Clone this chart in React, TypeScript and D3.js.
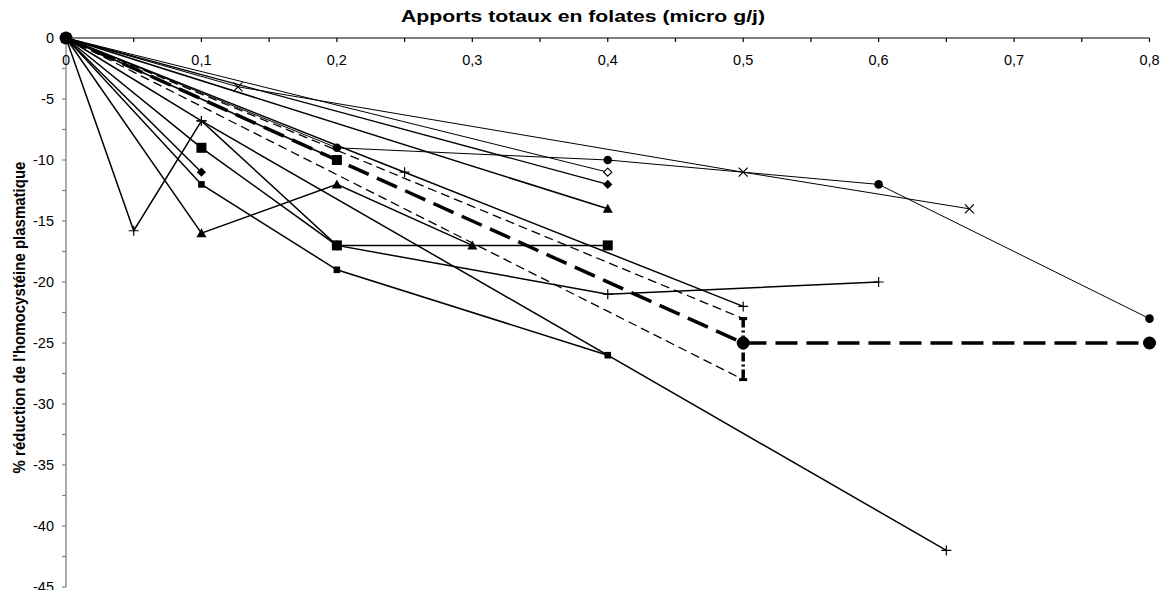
import React from "react";
import * as d3 from "d3";

const W = 1160;
const H = 590;

// axis ticks and labels
const xTickValues = [0, 0.05, 0.1, 0.15, 0.2, 0.25, 0.3, 0.35, 0.4, 0.45, 0.5, 0.55, 0.6, 0.65, 0.7, 0.75, 0.8];
const xLabelValues = [0, 0.1, 0.2, 0.3, 0.4, 0.5, 0.6, 0.7, 0.8];
const xLabels = ["0", "0,1", "0,2", "0,3", "0,4", "0,5", "0,6", "0,7", "0,8"];
const yTickValues = [0, -2.5, -5, -7.5, -10, -12.5, -15, -17.5, -20, -22.5, -25, -27.5, -30, -32.5, -35, -37.5, -40, -42.5, -45];
const yLabelValues = [0, -5, -10, -15, -20, -25, -30, -35, -40, -45];
const yLabels = ["0", "-5", "-10", "-15", "-20", "-25", "-30", "-35", "-40", "-45"];

const xTitle = "Apports totaux en folates (micro g/j)";
const yTitle = "% réduction de l'homocystéine plasmatique";

// series data
const circleX = [0, 0.2, 0.4, 0.6, 0.8];
const circleY = [0, -9, -10, -12, -23];
const crossX = [0, 0.127, 0.5, 0.667];
const crossY = [0, -4, -11, -14];
const openDiamondX = [0, 0.4];
const openDiamondY = [0, -11];
const diamondX = [0, 0.4];
const diamondY = [0, -12];
const triangleX = [0, 0.4];
const triangleY = [0, -14];
const bigSquareX = [0, 0.1, 0.2, 0.4];
const bigSquareY = [0, -9, -17, -17];
const bigSquare2X = [0, 0.2];
const bigSquare2Y = [0, -10];
const diamond2X = [0, 0.1];
const diamond2Y = [0, -11];
const smallSquareX = [0, 0.1, 0.2, 0.4];
const smallSquareY = [0, -12, -19, -26];
const triangle2X = [0, 0.1, 0.2, 0.3];
const triangle2Y = [0, -16, -12, -17];
const plusAX = [0, 0.05, 0.1, 0.2, 0.4, 0.6];
const plusAY = [0, -15.8, -6.8, -17, -21, -20];
const plusBX = [0, 0.1, 0.65];
const plusBY = [0, -6.8, -42];
const plusCX = [0, 0.25, 0.5];
const plusCY = [0, -11, -22];
const upperBoundX = [0, 0.5];
const upperBoundY = [0, -23];
const lowerBoundX = [0, 0.5];
const lowerBoundY = [0, -28];
const meanX = [0, 0.5, 0.8];
const meanY = [0, -25, -25];
const errorX = [0.5, 0.5];
const errorY = [-23, -28];

type Marker = "circle" | "bigCircle" | "cross" | "plus" | "openDiamond" | "diamond" | "triangle" | "bigSquare" | "smallSquare" | "dash" | "none";

interface Series {
  xs: number[];
  ys: number[];
  marker: Marker;
  width: number;
  dash?: string;
}

const series: Series[] = [
  { xs: circleX, ys: circleY, marker: "circle", width: 1 },
  { xs: crossX, ys: crossY, marker: "cross", width: 1 },
  { xs: openDiamondX, ys: openDiamondY, marker: "openDiamond", width: 1 },
  { xs: diamondX, ys: diamondY, marker: "diamond", width: 1.3 },
  { xs: triangleX, ys: triangleY, marker: "triangle", width: 1.5 },
  { xs: bigSquareX, ys: bigSquareY, marker: "bigSquare", width: 1.5 },
  { xs: bigSquare2X, ys: bigSquare2Y, marker: "bigSquare", width: 1.5 },
  { xs: diamond2X, ys: diamond2Y, marker: "diamond", width: 1.5 },
  { xs: smallSquareX, ys: smallSquareY, marker: "smallSquare", width: 1.5 },
  { xs: triangle2X, ys: triangle2Y, marker: "triangle", width: 1.5 },
  { xs: plusAX, ys: plusAY, marker: "plus", width: 1.5 },
  { xs: plusBX, ys: plusBY, marker: "plus", width: 1.5 },
  { xs: plusCX, ys: plusCY, marker: "plus", width: 1.5 },
  { xs: upperBoundX, ys: upperBoundY, marker: "dash", width: 1.3, dash: "9,5" },
  { xs: lowerBoundX, ys: lowerBoundY, marker: "dash", width: 1.3, dash: "9,5" },
  { xs: errorX, ys: errorY, marker: "none", width: 3.5, dash: "9,3,2,3" },
  { xs: meanX, ys: meanY, marker: "bigCircle", width: 3.5, dash: "22,9" },
];

const PLOT_L = 66;
const PLOT_R = 1149.5;
const PLOT_T = 38;
const PLOT_B = 587;

const x = d3.scaleLinear().domain([0, 0.8]).range([PLOT_L, PLOT_R]);
const y = d3.scaleLinear().domain([0, -45]).range([PLOT_T, PLOT_B]);

const FONT = "'Liberation Sans', Arial, Helvetica, sans-serif";

function renderMarker(m: Marker, cx: number, cy: number, key: string) {
  switch (m) {
    case "circle":
      return <circle key={key} cx={cx} cy={cy} r={4.3} fill="#000" />;
    case "bigCircle":
      return <circle key={key} cx={cx} cy={cy} r={6.5} fill="#000" />;
    case "cross":
      return (
        <path key={key} d={`M${cx - 4.5},${cy - 4.5}L${cx + 4.5},${cy + 4.5}M${cx - 4.5},${cy + 4.5}L${cx + 4.5},${cy - 4.5}`} stroke="#000" strokeWidth={1.2} fill="none" />
      );
    case "plus":
      return (
        <path key={key} d={`M${cx - 5},${cy}L${cx + 5},${cy}M${cx},${cy - 5}L${cx},${cy + 5}`} stroke="#000" strokeWidth={1.2} fill="none" />
      );
    case "openDiamond":
      return <path key={key} d={`M${cx},${cy - 4}L${cx + 4},${cy}L${cx},${cy + 4}L${cx - 4},${cy}Z`} fill="#fff" stroke="#000" strokeWidth={1.2} />;
    case "diamond":
      return <path key={key} d={`M${cx},${cy - 4.6}L${cx + 4.6},${cy}L${cx},${cy + 4.6}L${cx - 4.6},${cy}Z`} fill="#000" />;
    case "triangle":
      return <path key={key} d={`M${cx},${cy - 5}L${cx + 5},${cy + 4}L${cx - 5},${cy + 4}Z`} fill="#000" />;
    case "bigSquare":
      return <rect key={key} x={cx - 5} y={cy - 5} width={10} height={10} fill="#000" />;
    case "smallSquare":
      return <rect key={key} x={cx - 3.3} y={cy - 3.3} width={6.6} height={6.6} fill="#000" />;
    case "dash":
      return <rect key={key} x={cx - 4} y={cy - 1.5} width={8} height={3} fill="#000" />;
    default:
      return null;
  }
}

export default function App() {
  const line = d3
    .line<[number, number]>()
    .x((d) => x(d[0]))
    .y((d) => y(d[1]));

  return (
    <svg width={W} height={H} style={{ position: "absolute", left: 0, top: 0, background: "#fff" }} fontFamily={FONT}>
      <rect x={0} y={0} width={W} height={H} fill="#fff" />
      {/* titles */}
      <text x={583} y={22} textAnchor="middle" fontSize={17} fontWeight="bold" fill="#000" textLength={364} lengthAdjust="spacingAndGlyphs">
        {xTitle}
      </text>
      <text
        transform={`translate(25,${(PLOT_T + PLOT_B) / 2 + 5}) scale(1.15,1) rotate(-90)`}
        textAnchor="middle"
        fontSize={15}
        fontWeight="bold"
        fill="#000"
      >
        {yTitle}
      </text>

      {/* y axis */}
      <line x1={PLOT_L} x2={PLOT_L} y1={PLOT_T} y2={PLOT_B} stroke="#808080" strokeWidth={1.3} />
      {yTickValues.map((v) => (
        <line key={"yt" + v} x1={PLOT_L - 4} x2={PLOT_L} y1={y(v)} y2={y(v)} stroke="#808080" strokeWidth={1.2} />
      ))}
      {yLabelValues.map((v, i) => (
        <text key={"yl" + v} x={PLOT_L - 12} y={y(v)} dy="0.35em" textAnchor="end" fontSize={14.5} fill="#000">
          {yLabels[i]}
        </text>
      ))}

      {/* x axis (top) */}
      <line x1={PLOT_L} x2={PLOT_R} y1={PLOT_T} y2={PLOT_T} stroke="#000" strokeWidth={1.2} />
      {xTickValues.map((v) => (
        <line key={"xt" + v} x1={x(v)} x2={x(v)} y1={PLOT_T} y2={PLOT_T + 4} stroke="#000" strokeWidth={1.2} />
      ))}
      {xLabelValues.map((v, i) => (
        <text key={"xl" + v} x={x(v)} y={PLOT_T + 22} dy="0.35em" textAnchor="middle" fontSize={14.5} fill="#000">
          {xLabels[i]}
        </text>
      ))}

      {/* series lines */}
      {series.map((s, i) => (
        <path
          key={"s" + i}
          d={line(s.xs.map((v, j) => [v, s.ys[j]] as [number, number])) || ""}
          fill="none"
          stroke="#000"
          strokeWidth={s.width}
          strokeDasharray={s.dash}
        />
      ))}
      {/* markers */}
      {series.map((s, i) =>
        s.xs.map((v, j) => renderMarker(s.marker, x(v), y(s.ys[j]), `m${i}-${j}`))
      )}
    </svg>
  );
}
